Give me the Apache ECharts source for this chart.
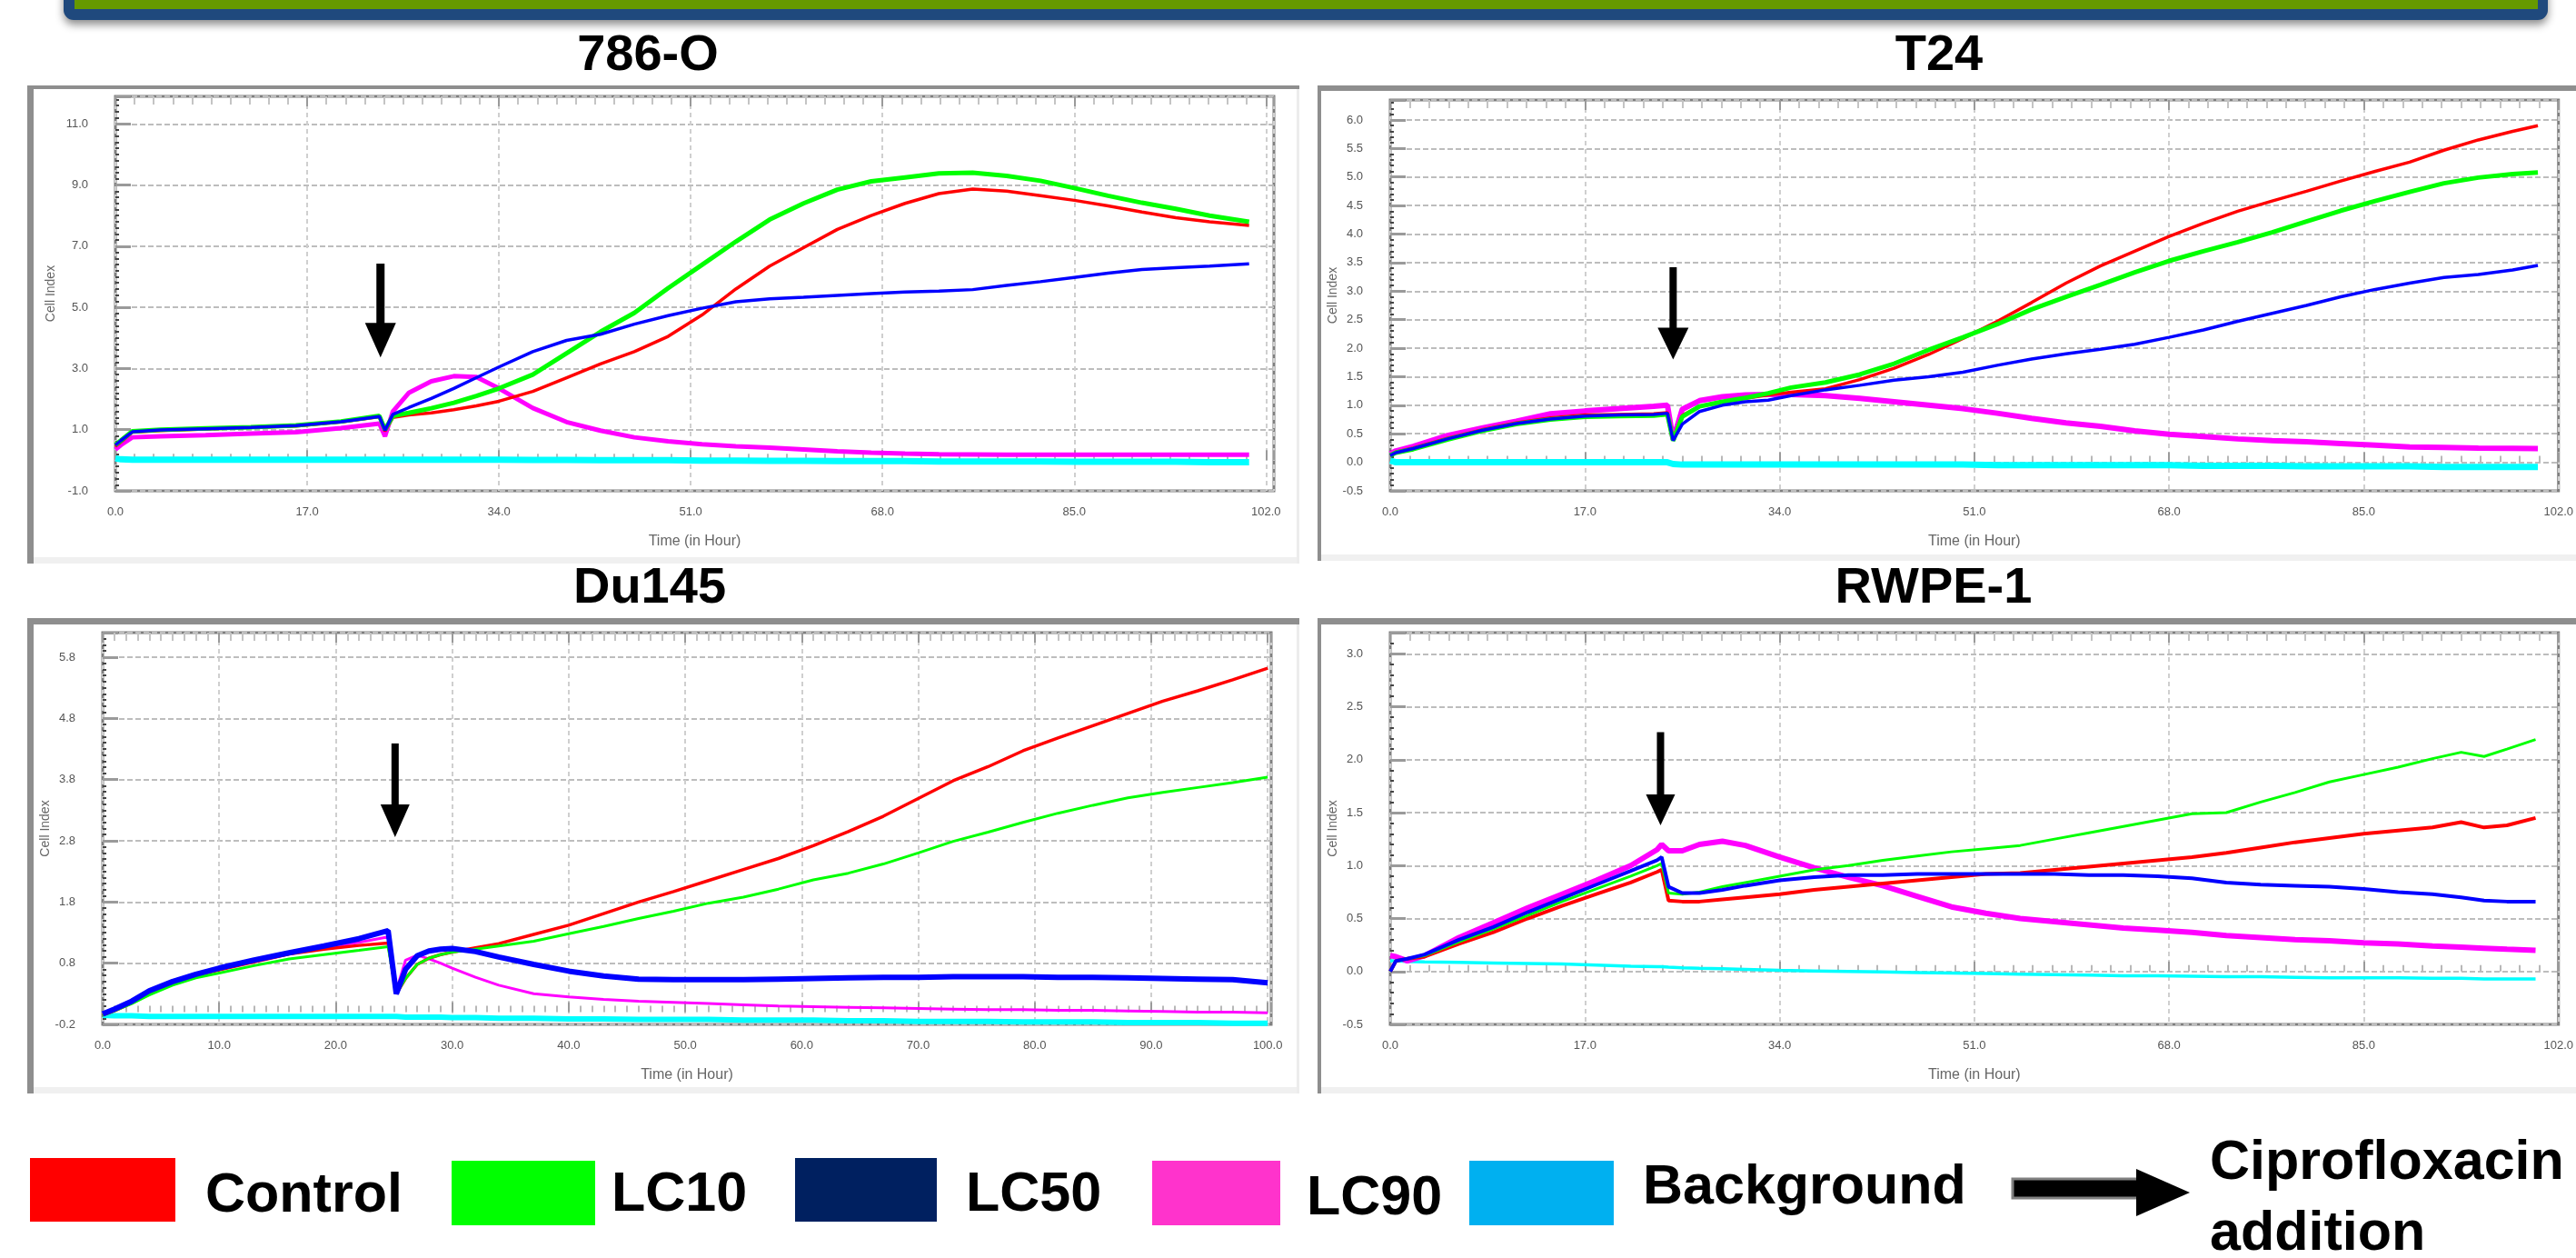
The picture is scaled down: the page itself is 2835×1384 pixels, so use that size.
<!DOCTYPE html>
<html>
<head>
<meta charset="utf-8">
<script src="https://cdn.jsdelivr.net/npm/echarts@6/dist/echarts.min.js"></script>
<style>
html,body{margin:0;padding:0;background:#fff;}
#chart{width:2835px;height:1384px;}
</style>
</head>
<body>
<div id="chart"></div>
<script>
// ---------------- DATA ----------------
const seriesNames = ['Control', 'LC10', 'LC50', 'LC90', 'Background'];

// 786-O
const hours786 = [0, 0.5, 1.5, 4, 8, 12, 16, 20, 23.4, 23.9, 24.6, 26, 28, 30, 32, 34, 37, 40, 43, 46, 49, 52, 55, 58, 61, 64, 67, 70, 73, 76, 79, 82, 85, 88, 91, 94, 97, 100.5];
const control786 = [0.45, 0.6, 0.92, 0.97, 1.02, 1.07, 1.12, 1.25, 1.42, 0.95, 1.4, 1.48, 1.55, 1.65, 1.78, 1.93, 2.25, 2.7, 3.15, 3.55, 4.05, 4.75, 5.6, 6.35, 6.95, 7.55, 8.0, 8.4, 8.72, 8.87, 8.8, 8.65, 8.5, 8.32, 8.12, 7.93, 7.8, 7.68];
const lc10_786 = [0.5, 0.65, 0.95, 1.0, 1.04, 1.08, 1.14, 1.27, 1.45, 1.0, 1.45, 1.55, 1.7, 1.88, 2.1, 2.35, 2.8, 3.5, 4.2, 4.82, 5.63, 6.39, 7.15, 7.87, 8.4, 8.85, 9.12, 9.25, 9.38, 9.4, 9.3, 9.14, 8.9, 8.65, 8.42, 8.22, 8.0, 7.8];
const lc50_786 = [0.5, 0.65, 0.93, 0.99, 1.03, 1.07, 1.13, 1.26, 1.43, 0.98, 1.5, 1.72, 2.02, 2.35, 2.7, 3.05, 3.55, 3.92, 4.12, 4.45, 4.73, 4.97, 5.18, 5.28, 5.33, 5.39, 5.45, 5.5, 5.53, 5.58, 5.72, 5.84, 5.98, 6.12, 6.24, 6.3, 6.35, 6.42];
const lc90_786 = [0.35, 0.5, 0.75, 0.78, 0.82, 0.87, 0.92, 1.05, 1.2, 0.78, 1.6, 2.2, 2.58, 2.75, 2.72, 2.35, 1.71, 1.25, 0.97, 0.75, 0.62, 0.52, 0.46, 0.41, 0.35, 0.29, 0.25, 0.22, 0.2, 0.19, 0.18, 0.18, 0.18, 0.18, 0.18, 0.18, 0.18, 0.18];
const bg786 = [0.06, 0.03, 0.02, 0.02, 0.02, 0.02, 0.02, 0.02, 0.02, 0.02, 0.02, 0.02, 0.02, 0.02, 0.02, 0.02, 0.01, 0.01, 0.0, 0.0, 0.0, -0.01, -0.01, -0.02, -0.02, -0.03, -0.03, -0.03, -0.04, -0.04, -0.04, -0.04, -0.05, -0.05, -0.05, -0.05, -0.06, -0.06];
const arrow786 = [23.5, 6.43, 3.36];           // hour, arrow top, arrow tip
const xTicks786 = [0, 17, 34, 51, 68, 85, 102];
const yTicks786 = [-1, 1, 3, 5, 7, 9, 11];
const xMax786 = 102.7, yMax786 = 11.9;

// T24
const hoursT24 = [0, 0.5, 2, 5, 8, 11, 14, 17, 20, 23, 24.2, 24.7, 25.5, 27, 29, 31, 33, 35, 38, 41, 44, 47, 50, 53, 56, 59, 62, 65, 68, 71, 74, 77, 80, 83, 86, 89, 92, 95, 98, 100.2];
const controlT24 = [0.12, 0.18, 0.25, 0.42, 0.57, 0.69, 0.78, 0.83, 0.84, 0.85, 0.87, 0.42, 0.82, 0.98, 1.06, 1.12, 1.18, 1.23, 1.29, 1.45, 1.65, 1.89, 2.17, 2.47, 2.8, 3.14, 3.44, 3.7, 3.96, 4.19, 4.4, 4.58, 4.75, 4.93, 5.1, 5.26, 5.47, 5.65, 5.8, 5.9];
const lc10T24 = [0.12, 0.17, 0.23, 0.4, 0.55, 0.67, 0.75, 0.8, 0.81, 0.82, 0.84, 0.38, 0.8, 0.98, 1.06, 1.13, 1.21, 1.31, 1.4, 1.54, 1.73, 1.97, 2.19, 2.42, 2.68, 2.9, 3.11, 3.33, 3.53, 3.7, 3.86, 4.03, 4.22, 4.41, 4.58, 4.74, 4.89, 4.99, 5.05, 5.08];
const lc50T24 = [0.12, 0.17, 0.24, 0.41, 0.56, 0.68, 0.76, 0.81, 0.83, 0.84, 0.86, 0.38, 0.67, 0.89, 1.0, 1.06, 1.09, 1.17, 1.27, 1.35, 1.44, 1.5, 1.58, 1.7, 1.81, 1.9, 1.98, 2.07, 2.19, 2.32, 2.47, 2.61, 2.75, 2.9, 3.03, 3.14, 3.24, 3.29, 3.37, 3.45];
const lc90T24 = [0.15, 0.2, 0.28, 0.47, 0.6, 0.72, 0.85, 0.9, 0.94, 0.98, 1.0, 0.4, 0.93, 1.08, 1.15, 1.18, 1.19, 1.19, 1.17, 1.12, 1.06, 1.0, 0.94, 0.86, 0.77, 0.69, 0.63, 0.55, 0.49, 0.45, 0.41, 0.38, 0.36, 0.33, 0.3, 0.27, 0.26, 0.25, 0.245, 0.24];
const bgT24 = [0.03, 0.0, 0.0, 0.0, 0.0, 0.0, 0.0, 0.0, 0.0, 0.0, 0.0, -0.03, -0.04, -0.04, -0.04, -0.04, -0.04, -0.04, -0.04, -0.04, -0.04, -0.04, -0.04, -0.05, -0.05, -0.05, -0.05, -0.05, -0.05, -0.06, -0.06, -0.06, -0.07, -0.07, -0.07, -0.07, -0.08, -0.08, -0.08, -0.08];
const arrowT24 = [24.7, 3.42, 1.80];
const xTicksT24 = [0, 17, 34, 51, 68, 85, 102];
const yTicksT24 = [-0.5, 0, 0.5, 1, 1.5, 2, 2.5, 3, 3.5, 4, 4.5, 5, 5.5, 6];
const xMaxT24 = 102, yMaxT24 = 6.35;

// Du145
const hoursDu = [0, 1, 2.5, 4, 6, 8, 10, 13, 16, 19, 22, 24.5, 25.2, 26, 27, 28, 29, 30, 32, 34, 37, 40, 43, 46, 49, 52, 55, 58, 61, 64, 67, 70, 73, 76, 79, 82, 85, 88, 91, 94, 97, 100];
const controlDu = [-0.05, 0.02, 0.15, 0.3, 0.47, 0.6, 0.69, 0.82, 0.95, 1.03, 1.09, 1.13, 0.3, 0.55, 0.78, 0.88, 0.94, 0.98, 1.05, 1.12, 1.27, 1.42, 1.61, 1.8, 1.97, 2.15, 2.33, 2.51, 2.72, 2.95, 3.2, 3.49, 3.78, 4.01, 4.27, 4.48, 4.68, 4.88, 5.08, 5.25, 5.43, 5.62];
const lc10Du = [-0.05, 0.02, 0.14, 0.28, 0.44, 0.56, 0.64, 0.76, 0.87, 0.94, 1.01, 1.07, 0.3, 0.55, 0.78, 0.88, 0.94, 0.98, 1.03, 1.08, 1.16, 1.28, 1.4, 1.53, 1.65, 1.78, 1.88, 2.01, 2.16, 2.27, 2.42, 2.6, 2.79, 2.94, 3.1, 3.25, 3.38, 3.5, 3.59, 3.67, 3.75, 3.84];
const lc50Du = [-0.03, 0.05, 0.18, 0.35, 0.5, 0.62, 0.72, 0.85, 0.97, 1.08, 1.2, 1.33, 0.3, 0.7, 0.92, 1.0, 1.03, 1.04, 0.99, 0.9, 0.78, 0.67, 0.59, 0.54, 0.53, 0.53, 0.53, 0.54, 0.55, 0.56, 0.57, 0.57, 0.58, 0.58, 0.58, 0.57, 0.57, 0.56, 0.55, 0.54, 0.53, 0.48];
const lc90Du = [-0.04, 0.04, 0.17, 0.33, 0.49, 0.61, 0.7, 0.83, 0.95, 1.05, 1.14, 1.23, 0.35, 0.85, 0.93, 0.87, 0.8, 0.72, 0.57, 0.44, 0.3, 0.25, 0.21, 0.18, 0.16, 0.14, 0.12, 0.1, 0.09, 0.08, 0.07, 0.06, 0.05, 0.04, 0.04, 0.03, 0.03, 0.02, 0.01, 0.0, 0.0, -0.01];
const bgDu = [-0.05, -0.06, -0.06, -0.07, -0.07, -0.07, -0.07, -0.07, -0.07, -0.07, -0.07, -0.07, -0.07, -0.08, -0.08, -0.08, -0.08, -0.09, -0.09, -0.1, -0.1, -0.11, -0.11, -0.12, -0.12, -0.12, -0.13, -0.13, -0.13, -0.14, -0.14, -0.15, -0.15, -0.15, -0.16, -0.16, -0.16, -0.17, -0.17, -0.17, -0.18, -0.18];
const arrowDu = [25.1, 4.39, 2.86];
const xTicksDu = [0, 10, 20, 30, 40, 50, 60, 70, 80, 90, 100];
const yTicksDu = [-0.2, 0.8, 1.8, 2.8, 3.8, 4.8, 5.8];
const xMaxDu = 100.3, yMaxDu = 6.2;

// RWPE-1
const hoursRW = [0, 0.5, 1.5, 3, 6, 9, 12, 15, 18, 21, 23.3, 23.7, 24.3, 25.5, 27, 29, 31, 34, 37, 40, 43, 46, 49, 52, 55, 58, 61, 64, 67, 70, 73, 76, 79, 82, 85, 88, 91, 93.5, 95.5, 97.5, 100];
const controlRW = [0.0, 0.1, 0.12, 0.14, 0.26, 0.37, 0.5, 0.62, 0.73, 0.84, 0.94, 0.96, 0.67, 0.66, 0.66, 0.68, 0.7, 0.73, 0.77, 0.8, 0.83, 0.86, 0.89, 0.92, 0.93, 0.96, 0.99, 1.02, 1.05, 1.08, 1.12, 1.17, 1.22, 1.26, 1.3, 1.33, 1.36, 1.41, 1.36, 1.38, 1.45];
const lc10RW = [0.0, 0.1, 0.12, 0.15, 0.28, 0.4, 0.53, 0.66, 0.78, 0.9, 1.0, 1.02, 0.74, 0.73, 0.75, 0.8, 0.84, 0.9, 0.96, 1.0, 1.05, 1.09, 1.13, 1.16, 1.19, 1.25, 1.31, 1.37, 1.43, 1.49, 1.5, 1.6, 1.69, 1.79, 1.86, 1.93, 2.01, 2.07, 2.03, 2.1, 2.19];
const lc50RW = [0.0, 0.1, 0.12, 0.16, 0.3, 0.42, 0.56, 0.69, 0.82, 0.95, 1.05, 1.08, 0.8, 0.74, 0.74, 0.77, 0.81, 0.86, 0.89, 0.91, 0.91, 0.92, 0.92, 0.92, 0.92, 0.92, 0.91, 0.91, 0.9, 0.88, 0.84, 0.82, 0.81, 0.8, 0.78, 0.75, 0.73, 0.7, 0.67, 0.66, 0.66];
const lc90RW = [0.15, 0.14, 0.1, 0.15, 0.32, 0.46, 0.6, 0.73, 0.86, 1.0, 1.15, 1.2, 1.14, 1.14, 1.2, 1.23, 1.19, 1.08, 0.98, 0.89, 0.81, 0.71, 0.61, 0.55, 0.5, 0.47, 0.44, 0.41, 0.39, 0.37, 0.34, 0.32, 0.3, 0.29, 0.27, 0.26, 0.24, 0.23, 0.22, 0.21, 0.2];
const bgRW = [0.1, 0.1, 0.095, 0.09, 0.085, 0.08, 0.075, 0.07, 0.06, 0.05, 0.045, 0.045, 0.04, 0.035, 0.03, 0.025, 0.02, 0.01, 0.005, 0.0, -0.005, -0.01, -0.015, -0.02, -0.025, -0.03, -0.035, -0.04, -0.04, -0.045, -0.05, -0.05, -0.055, -0.06, -0.06, -0.06, -0.065, -0.065, -0.07, -0.07, -0.07];
const arrowRW = [23.6, 2.26, 1.38];
const xTicksRW = [0, 17, 34, 51, 68, 85, 102];
const yTicksRW = [-0.5, 0, 0.5, 1, 1.5, 2, 2.5, 3];
const xMaxRW = 102, yMaxRW = 3.2;

// ---------------- PRESENTATION ----------------
const FONT = '"Liberation Sans", Arial, sans-serif';
const lineColors = ['#ff0000', '#00ff00', '#0000ff', '#ff00ff', '#00ffff'];
const legendColors = ['#ff0000', '#00ff00', '#002060', '#ff33cc', '#00b0f0'];

const panels = [
  {title: '786-O', hours: hours786, vals: [control786, lc10_786, lc50_786, lc90_786, bg786], arrow: arrow786,
   xTicks: xTicks786, yTicks: yTicks786, xMax: xMax786, yMax: yMax786,
   grid: {left: 127, top: 106, width: 1275, height: 434}, widths: [3.5, 5, 3.5, 5, 7],
   yMinor: 10, yNameGap: 64, titleXY: [713, 62], frame: {x: 30, y: 94, w: 1400, h: 526, top: 4, left: 7},
   head: [38, 17], shaft: 9},
  {title: 'T24', hours: hoursT24, vals: [controlT24, lc10T24, lc50T24, lc90T24, bgT24], arrow: arrowT24,
   xTicks: xTicksT24, yTicks: yTicksT24, xMax: xMaxT24, yMax: yMaxT24,
   grid: {left: 1530, top: 110, width: 1287, height: 430}, widths: [3.5, 5, 3.5, 6, 7],
   yMinor: 5, yNameGap: 54, titleXY: [2134, 62], frame: {x: 1450, y: 94, w: 1390, h: 523, top: 6, left: 4},
   head: [35, 17], shaft: 8},
  {title: 'Du145', hours: hoursDu, vals: [controlDu, lc10Du, lc50Du, lc90Du, bgDu], arrow: arrowDu,
   xTicks: xTicksDu, yTicks: yTicksDu, xMax: xMaxDu, yMax: yMaxDu,
   grid: {left: 113, top: 696, width: 1286, height: 431}, widths: [3.5, 3, 6, 3, 6],
   yMinor: 10, yNameGap: 54, titleXY: [715, 648], frame: {x: 30, y: 680, w: 1400, h: 523, top: 7, left: 7},
   head: [36, 16], shaft: 8},
  {title: 'RWPE-1', hours: hoursRW, vals: [controlRW, lc10RW, lc50RW, lc90RW, bgRW], arrow: arrowRW,
   xTicks: xTicksRW, yTicks: yTicksRW, xMax: xMaxRW, yMax: yMaxRW,
   grid: {left: 1530, top: 696, width: 1287, height: 431}, widths: [4, 3, 4, 6, 3.5],
   yMinor: 5, yNameGap: 54, titleXY: [2128, 648], frame: {x: 1450, y: 680, w: 1390, h: 523, top: 7, left: 4},
   head: [34, 16], shaft: 8}
];

function tickFormatter(min, step) {
  return function (v) {
    const k = (v - min) / step;
    if (Math.abs(k - Math.round(k)) > 1e-6) return '';
    const r = Math.round(v * 10) / 10;
    return (r === 0 ? 0 : r).toFixed(1);
  };
}

const grids = [], xAxes = [], yAxes = [], series = [], graphics = [];

// banner at the top
graphics.push({type: 'rect', shape: {x: 70, y: -20, width: 2734, height: 42, r: 11},
  style: {fill: '#1f497d', shadowBlur: 10, shadowOffsetY: 5, shadowColor: 'rgba(0,0,0,0.45)'}, z: 1});
graphics.push({type: 'rect', shape: {x: 82, y: -10, width: 2711, height: 20}, style: {fill: '#669900'}, z: 2});

panels.forEach(function (p, i) {
  const xMin = p.xTicks[0], xStep = p.xTicks[1] - p.xTicks[0];
  const yMin = p.yTicks[0], yStep = p.yTicks[1] - p.yTicks[0];
  grids.push(Object.assign({show: true, backgroundColor: '#fff', borderColor: '#7f7f7f', borderWidth: 3, containLabel: false}, p.grid));

  // bottom x axis
  xAxes.push({
    gridIndex: i, type: 'value', min: xMin, max: p.xMax, interval: xStep,
    axisLine: {show: false},
    axisTick: {show: true, inside: true, length: 11, lineStyle: {color: '#9a9a9a', width: 2}},
    minorTick: {show: true, splitNumber: 10, length: 7, lineStyle: {color: '#b8b8b8', width: 2}},
    axisLabel: {margin: 17, fontSize: 13, color: '#555', fontFamily: FONT, formatter: tickFormatter(xMin, xStep)},
    splitLine: {show: true, lineStyle: {color: '#cfcfcf', width: 2, type: [5, 4]}},
    name: 'Time (in Hour)', nameLocation: 'middle', nameGap: 48,
    nameTextStyle: {fontSize: 16, color: '#666', fontFamily: FONT}
  });
  // top x axis (tick marks only)
  xAxes.push({
    gridIndex: i, type: 'value', position: 'top', min: xMin, max: p.xMax, interval: xStep,
    axisLine: {show: false},
    axisTick: {show: true, inside: true, length: 11, lineStyle: {color: '#9a9a9a', width: 2}},
    minorTick: {show: true, splitNumber: 10, length: 9, lineStyle: {color: '#c4c4c4', width: 2}},
    axisLabel: {show: false}, splitLine: {show: false}
  });
  yAxes.push({
    gridIndex: i, type: 'value', min: yMin, max: p.yMax, interval: yStep,
    axisLine: {show: false},
    axisTick: {show: true, inside: true, length: 17, lineStyle: {color: '#9a9a9a', width: 3}},
    minorTick: {show: true, splitNumber: p.yMinor, length: 4, lineStyle: {color: '#444', width: 2}},
    axisLabel: {margin: 30, fontSize: 13, color: '#555', fontFamily: FONT, formatter: tickFormatter(yMin, yStep)},
    splitLine: {show: true, lineStyle: {color: '#bdbdbd', width: 2, type: [6, 3]}},
    name: 'Cell Index', nameLocation: 'middle', nameRotate: 90, nameGap: p.yNameGap,
    nameTextStyle: {fontSize: 14, color: '#666', fontFamily: FONT}
  });

  const order = [4, 3, 0, 1, 2];
  order.forEach(function (s) {
    series.push({
      type: 'line', name: seriesNames[s], xAxisIndex: 2 * i, yAxisIndex: i,
      data: p.hours.map(function (h, k) { return [h, p.vals[s][k]]; }),
      showSymbol: false, symbol: 'none', smooth: false, silent: true, animation: false,
      lineStyle: {color: lineColors[s], width: p.widths[s]}, z: 3
    });
  });

  // Ciprofloxacin addition arrow (data coordinates)
  const hl = p.head[0], hw = p.head[1], sw = p.shaft;
  series.push({
    type: 'custom', xAxisIndex: 2 * i, yAxisIndex: i, silent: true, animation: false, z: 6,
    data: [p.arrow], encode: {x: 0, y: [1, 2]},
    renderItem: function (params, api) {
      const top = api.coord([api.value(0), api.value(1)]);
      const tip = api.coord([api.value(0), api.value(2)]);
      return {type: 'group', children: [
        {type: 'rect', shape: {x: top[0] - sw / 2, y: top[1], width: sw, height: tip[1] - hl - top[1] + 2}, style: {fill: '#000'}},
        {type: 'polygon', shape: {points: [[tip[0] - hw, tip[1] - hl], [tip[0] + hw, tip[1] - hl], [tip[0], tip[1]]]}, style: {fill: '#000'}}
      ]};
    }
  });

  // panel frame
  const f = p.frame;
  graphics.push({type: 'rect', shape: {x: f.x, y: f.y + f.h - 7, width: f.w, height: 7}, style: {fill: '#f0f0f0'}, z: 0});
  graphics.push({type: 'rect', shape: {x: f.x + f.w - 3, y: f.y, width: 3, height: f.h}, style: {fill: '#ececec'}, z: 0});
  graphics.push({type: 'rect', shape: {x: f.x, y: f.y, width: f.w, height: f.top}, style: {fill: '#8e8e8e'}, z: 0});
  graphics.push({type: 'rect', shape: {x: f.x, y: f.y, width: f.left, height: f.h}, style: {fill: '#8e8e8e'}, z: 0});

  // panel title
  graphics.push({type: 'text', x: p.titleXY[0], y: p.titleXY[1], z: 5,
    style: {text: p.title, fill: '#000', font: 'bold 56px ' + FONT, textAlign: 'center', textVerticalAlign: 'middle'}});
});

// ---------------- bottom legend ----------------
const legendBoxes = [
  {x: 33, y: 1274, w: 160, h: 70, tx: 226, ty: 1316},
  {x: 497, y: 1277, w: 158, h: 71, tx: 673, ty: 1315},
  {x: 875, y: 1274, w: 156, h: 70, tx: 1063, ty: 1315},
  {x: 1268, y: 1277, w: 141, h: 71, tx: 1438, ty: 1319},
  {x: 1617, y: 1277, w: 159, h: 71, tx: 1808, ty: 1307}
];
legendBoxes.forEach(function (b, s) {
  graphics.push({type: 'rect', shape: {x: b.x, y: b.y, width: b.w, height: b.h}, style: {fill: legendColors[s]}, z: 5});
  graphics.push({type: 'text', x: b.tx, y: b.ty, z: 5,
    style: {text: seriesNames[s], fill: '#000', font: 'bold 61px ' + FONT, textAlign: 'left', textVerticalAlign: 'middle'}});
});
graphics.push({type: 'rect', shape: {x: 2215, y: 1297, width: 138, height: 21}, style: {fill: '#000', stroke: '#808080', lineWidth: 3}, z: 5});
graphics.push({type: 'polygon', shape: {points: [[2351, 1286], [2410, 1312], [2351, 1338]]}, style: {fill: '#000'}, z: 6});
graphics.push({type: 'text', x: 2432, y: 1280, z: 5,
  style: {text: 'Ciprofloxacin', fill: '#000', font: 'bold 61px ' + FONT, textAlign: 'left', textVerticalAlign: 'middle'}});
graphics.push({type: 'text', x: 2432, y: 1358, z: 5,
  style: {text: 'addition', fill: '#000', font: 'bold 61px ' + FONT, textAlign: 'left', textVerticalAlign: 'middle'}});

const chart = echarts.init(document.getElementById('chart'), null, {renderer: 'canvas'});
chart.setOption({
  backgroundColor: '#ffffff',
  animation: false,
  grid: grids,
  xAxis: xAxes,
  yAxis: yAxes,
  series: series,
  graphic: {elements: graphics}
});
</script>
</body>
</html>
